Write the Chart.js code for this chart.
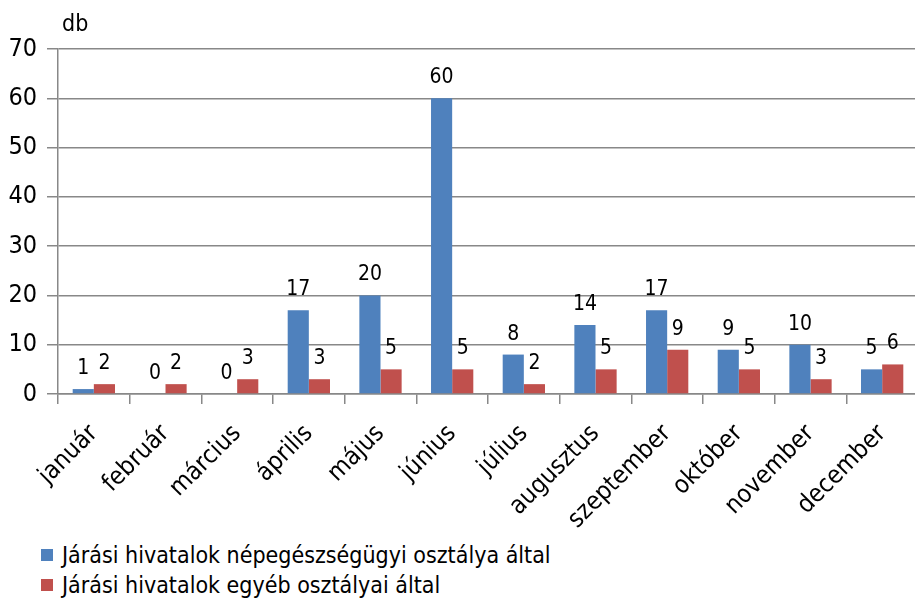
<!DOCTYPE html>
<html>
<head>
<meta charset="utf-8">
<script src="https://cdn.jsdelivr.net/npm/chart.js@4/dist/chart.umd.min.js"></script>
<style>
  html, body { margin: 0; padding: 0; background: #fff; overflow: hidden; width: 915px; height: 605px; }
  #wrap { position: absolute; left: 0; top: 0; width: 925px; height: 530px; }
  #legend { position: absolute; left: 41px; top: 540px; font-family: "Liberation Sans Narrow", "DejaVu Sans Condensed", sans-serif; font-size: 23px; color: #000; }
  .li { display: flex; align-items: center; height: 30px; }
  .sw { width: 12px; height: 12px; margin-right: 9px; }
</style>
</head>
<body>
<div id="wrap"><canvas id="c" width="925" height="530"></canvas></div>
<div id="legend"></div>
<script>
const months = ["január","február","március","április","május","június","július","augusztus","szeptember","október","november","december"];
const seriesNames = ["Járási hivatalok népegészségügyi osztálya által","Járási hivatalok egyéb osztályai által"];
const nepegeszsegugyi = [1,0,0,17,20,60,8,14,17,9,10,5];
const egyeb = [2,2,3,3,5,5,2,5,9,5,3,6];
const yTicks = [0,10,20,30,40,50,60,70];
const unitLabel = "db";
const colors = ["#4F81BD","#C0504D"];

const FONT = '"Liberation Sans Narrow", "DejaVu Sans Condensed", sans-serif';

const valueLabels = {
  id: 'valueLabels',
  afterDatasetsDraw(chart) {
    const ctx = chart.ctx;
    ctx.save();
    ctx.font = '21px ' + FONT;
    ctx.fillStyle = '#000';
    ctx.textAlign = 'center';
    ctx.textBaseline = 'bottom';
    chart.data.datasets.forEach((ds, i) => {
      const meta = chart.getDatasetMeta(i);
      meta.data.forEach((bar, j) => {
        ctx.fillText(String(ds.data[j]), bar.x, bar.y - 10);
      });
    });
    ctx.restore();
  }
};
const unitPlugin = {
  id: 'unitPlugin',
  afterDraw(chart) {
    const ctx = chart.ctx;
    ctx.save();
    ctx.font = '23px ' + FONT;
    ctx.fillStyle = '#000';
    ctx.textAlign = 'left';
    ctx.textBaseline = 'middle';
    ctx.fillText(unitLabel, chart.chartArea.left + 4, 25);
    ctx.restore();
  }
};

const chart = new Chart(document.getElementById('c'), {
  type: 'bar',
  data: {
    labels: months,
    datasets: [
      { label: seriesNames[0], data: nepegeszsegugyi, backgroundColor: colors[0], categoryPercentage: 0.59, barPercentage: 1.0 },
      { label: seriesNames[1], data: egyeb, backgroundColor: colors[1], categoryPercentage: 0.59, barPercentage: 1.0 }
    ]
  },
  options: {
    responsive: false,
    animation: false,
    layout: { padding: { top: 49, right: 7, bottom: 0, left: 0 } },
    plugins: { legend: { display: false }, tooltip: { enabled: false }, title: { display: false } },
    scales: {
      x: {
        offset: true,
        grid: { offset: true, drawOnChartArea: false, drawTicks: true, tickLength: 10, color: '#888888', lineWidth: 1.5 },
        border: { display: true, color: '#888888', width: 1.5 },
        ticks: { color: '#000', font: { family: FONT, size: 25 }, maxRotation: 45, minRotation: 45, autoSkip: false, padding: 15 },
        afterFit(s) { s.height = 136; }
      },
      y: {
        min: 0, max: 70,
        afterBuildTicks(s) { s.ticks = yTicks.map(v => ({ value: v })); },
        grid: { color: '#888888', lineWidth: 1.5, drawTicks: true, tickLength: 11 },
        border: { display: true, color: '#888888', width: 1.5 },
        ticks: { color: '#000', font: { family: FONT, size: 25 }, padding: 10 },
        afterFit(s) { s.width = 58; }
      }
    }
  },
  plugins: [valueLabels, unitPlugin]
});

const leg = document.getElementById('legend');
chart.data.datasets.forEach(ds => {
  const row = document.createElement('div'); row.className = 'li';
  const sw = document.createElement('div'); sw.className = 'sw'; sw.style.background = ds.backgroundColor;
  const tx = document.createElement('span'); tx.textContent = ds.label;
  row.appendChild(sw); row.appendChild(tx); leg.appendChild(row);
});
</script>
</body>
</html>
